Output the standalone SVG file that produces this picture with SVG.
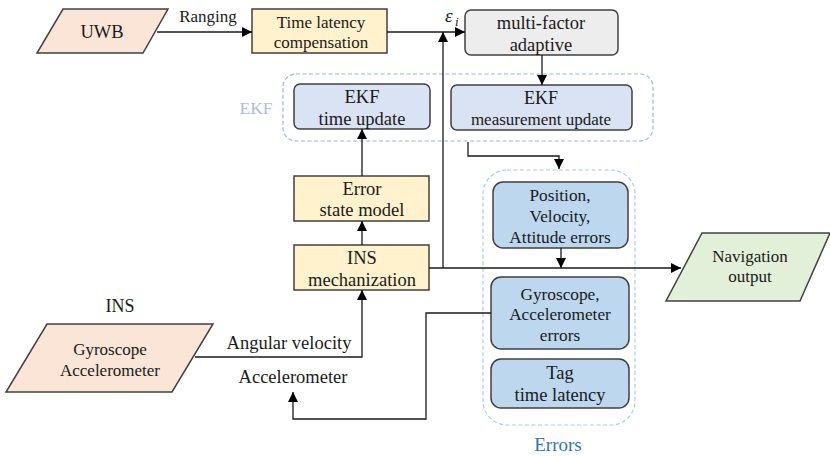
<svg xmlns="http://www.w3.org/2000/svg" width="830" height="456" viewBox="0 0 830 456" font-family="'Liberation Serif', 'DejaVu Serif', serif">
<defs>
<marker id="arr" viewBox="0 0 10 10" refX="10" refY="5" markerWidth="10" markerHeight="10" markerUnits="userSpaceOnUse" orient="auto">
<path d="M0,0 L10,5 L0,10 z" fill="#000"/>
</marker>
<style>
text{font-family:'Liberation Serif','DejaVu Serif',serif;fill:#1a1a1a;text-anchor:middle}
.n{stroke:#404040;stroke-width:1.5}
.para{fill:#FBE5D6}
.yel{fill:#FFF2CC}
.gry{fill:#EDEDED}
.ekf{fill:#DAE3F3}
.err{fill:#BDD7EE}
.nav{fill:#E2F0D9}
.grp{fill:none;stroke:#9DB3DC;stroke-width:1.2;stroke-dasharray:4 2.5}
.c{fill:none;stroke:#1a1a1a;stroke-width:1.3}
</style>
</defs>
<g id="ekf-group">
<rect class="grp" x="283" y="74" width="370" height="67" rx="13"/>
<text x="256" y="114" font-size="17.5" style="fill:#A9BEE3">EKF</text>
</g>
<g id="errors-group">
<rect class="grp" x="483" y="170" width="152" height="255" rx="24" style="stroke:#A8CBEA"/>
<text x="558" y="451" font-size="19" style="fill:#2E75B6">Errors</text>
</g>
<g id="uwb">
<polygon class="n para" points="63,9 168,9 143,53 37,53"/>
<text x="102" y="38" font-size="18.5">UWB</text>
</g>
<g id="time-latency">
<rect class="n yel" x="252" y="9" width="135" height="44"/>
<text x="321" y="28" font-size="17">Time latency</text>
<text x="321" y="48" font-size="17">compensation</text>
</g>
<g id="multi-factor">
<rect class="n gry" x="465" y="10" width="153" height="45" rx="6"/>
<text x="541" y="29" font-size="18.5">multi-factor</text>
<text x="541" y="51" font-size="18.5">adaptive</text>
</g>
<g id="ekf-time">
<rect class="n ekf" x="294" y="84" width="136" height="45" rx="6"/>
<text x="362" y="103" font-size="18.5">EKF</text>
<text x="362" y="125" font-size="18.5">time update</text>
</g>
<g id="ekf-meas">
<rect class="n ekf" x="451" y="85" width="181" height="45" rx="6"/>
<text x="541" y="104" font-size="18">EKF</text>
<text x="541" y="125" font-size="17">measurement update</text>
</g>
<g id="error-state">
<rect class="n yel" x="294" y="176" width="135" height="45"/>
<text x="362" y="195" font-size="18.5">Error</text>
<text x="362" y="216" font-size="18.5">state model</text>
</g>
<g id="ins-mech">
<rect class="n yel" x="294" y="245" width="135" height="45"/>
<text x="362" y="264" font-size="18.5">INS</text>
<text x="362" y="286" font-size="18.5">mechanization</text>
</g>
<g id="ins-sensor">
<text x="120" y="312" font-size="18">INS</text>
<polygon class="n para" points="47,324 213,324 172,392 6,392"/>
<text x="110" y="355" font-size="17">Gyroscope</text>
<text x="110" y="376" font-size="17">Accelerometer</text>
</g>
<g id="pva-errors">
<rect class="n err" x="493" y="182" width="135" height="66" rx="10"/>
<text x="560" y="201" font-size="17.3">Position,</text>
<text x="560" y="222" font-size="17.3">Velocity,</text>
<text x="560" y="243" font-size="17.3">Attitude errors</text>
</g>
<g id="sensor-errors">
<rect class="n err" x="491" y="277" width="138" height="72" rx="10"/>
<text x="560" y="300" font-size="17.3">Gyroscope,</text>
<text x="560" y="320" font-size="17.3">Accelerometer</text>
<text x="560" y="341" font-size="17.3">errors</text>
</g>
<g id="tag-latency">
<rect class="n err" x="491" y="359" width="138" height="49" rx="10"/>
<text x="560" y="379" font-size="18.5">Tag</text>
<text x="560" y="401" font-size="18.5">time latency</text>
</g>
<g id="nav-output">
<polygon class="n nav" points="702,233 830,233 800,301 666,301"/>
<text x="750" y="262" font-size="17">Navigation</text>
<text x="750" y="282" font-size="17">output</text>
</g>
<g id="connectors">
<path class="c" d="M157,32 H252" marker-end="url(#arr)"/>
<text x="208" y="22" font-size="17">Ranging</text>
<path class="c" d="M387,32 H465" marker-end="url(#arr)"/>
<path class="c" d="M443,268 V32" marker-end="url(#arr)"/>
<text x="445" y="22" font-size="19" font-style="italic" style="text-anchor:start">ε</text>
<text x="455" y="26" font-size="13" font-style="italic" style="text-anchor:start">i</text>
<path class="c" d="M542,55 V85" marker-end="url(#arr)"/>
<path class="c" d="M468,142 V156 H559 V169" marker-end="url(#arr)"/>
<path class="c" d="M362,176 V129" marker-end="url(#arr)"/>
<path class="c" d="M362,245 V221" marker-end="url(#arr)"/>
<path class="c" d="M195,357 H362 V290" marker-end="url(#arr)"/>
<text x="289" y="349" font-size="18.5">Angular velocity</text>
<text x="293" y="383" font-size="18.5">Accelerometer</text>
<path class="c" d="M561,248 V268" marker-end="url(#arr)"/>
<path class="c" d="M429,268 H681" marker-end="url(#arr)"/>
<path class="c" d="M491,313 H426 V419 H293 V392" marker-end="url(#arr)"/>
</g>
</svg>
